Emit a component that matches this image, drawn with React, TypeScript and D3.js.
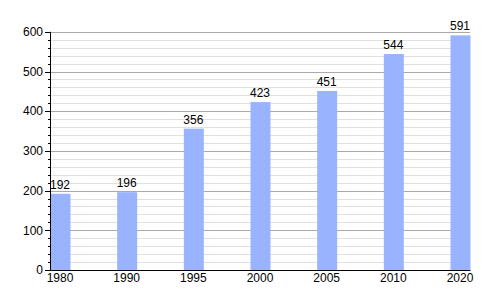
import React from "react";
import * as d3 from "d3";

const years = ["1980", "1990", "1995", "2000", "2005", "2010", "2020"];
const values = [192, 196, 356, 423, 451, 544, 591];
const yTicks = [0, 100, 200, 300, 400, 500, 600];

export default function App() {
  const W = 500, H = 300;
  const left = 50, right = 470, top = 31.8, bottom = 270;
  const x = d3.scaleBand<string>().domain(years).range([left, right]).paddingInner(0.7).paddingOuter(0);
  const y = d3.scaleLinear().domain([0, 600]).range([bottom, top]);
  const minor = d3.range(0, 601, 20).filter((v) => v % 100 !== 0);
  const font = "'Liberation Sans', Arial, sans-serif";
  return (
    <svg width={W} height={H} style={{ position: "absolute", left: 0, top: 0 }} fontFamily={font}>
      <rect width={W} height={H} fill="#fff" />
      {minor.map((v) => (
        <line key={"m" + v} x1={left} x2={right} y1={Math.round(y(v)) + 0.5} y2={Math.round(y(v)) + 0.5} stroke="#e0e0e0" />
      ))}
      {yTicks.map((v) => (
        <line key={"g" + v} x1={left} x2={right} y1={Math.round(y(v)) + 0.5} y2={Math.round(y(v)) + 0.5} stroke="#aaaaaa" />
      ))}
      {years.map((yr, i) => (
        <rect key={yr} x={x(yr)! + 0.5} y={y(values[i])} width={x.bandwidth()} height={bottom - y(values[i])} fill="#99b3ff" />
      ))}
      {years.map((yr, i) => (
        <text key={"v" + yr} x={x(yr)! + x.bandwidth() / 2} y={y(values[i]) - 5} textAnchor="middle" fontSize={12} fill="#000">
          {values[i]}
        </text>
      ))}
      {/* axes */}
      <line x1={left + 0.5} x2={left + 0.5} y1={top} y2={bottom} stroke="#000" />
      <line x1={left} x2={right + 0.5} y1={bottom + 0.5} y2={bottom + 0.5} stroke="#000" />
      {minor.map((v) => (
        <line key={"mt" + v} x1={left - 2} x2={left} y1={Math.round(y(v)) + 0.5} y2={Math.round(y(v)) + 0.5} stroke="#000" />
      ))}
      {yTicks.map((v) => (
        <g key={"t" + v}>
          <line x1={left - 5} x2={left} y1={Math.round(y(v)) + 0.5} y2={Math.round(y(v)) + 0.5} stroke="#000" />
          <text x={left - 7} y={y(v)} dy="0.35em" textAnchor="end" fontSize={12} fill="#000">
            {v}
          </text>
        </g>
      ))}
      {years.map((yr) => (
        <text key={"x" + yr} x={x(yr)! + x.bandwidth() / 2} y={282} textAnchor="middle" fontSize={12} fill="#000">
          {yr}
        </text>
      ))}
    </svg>
  );
}
